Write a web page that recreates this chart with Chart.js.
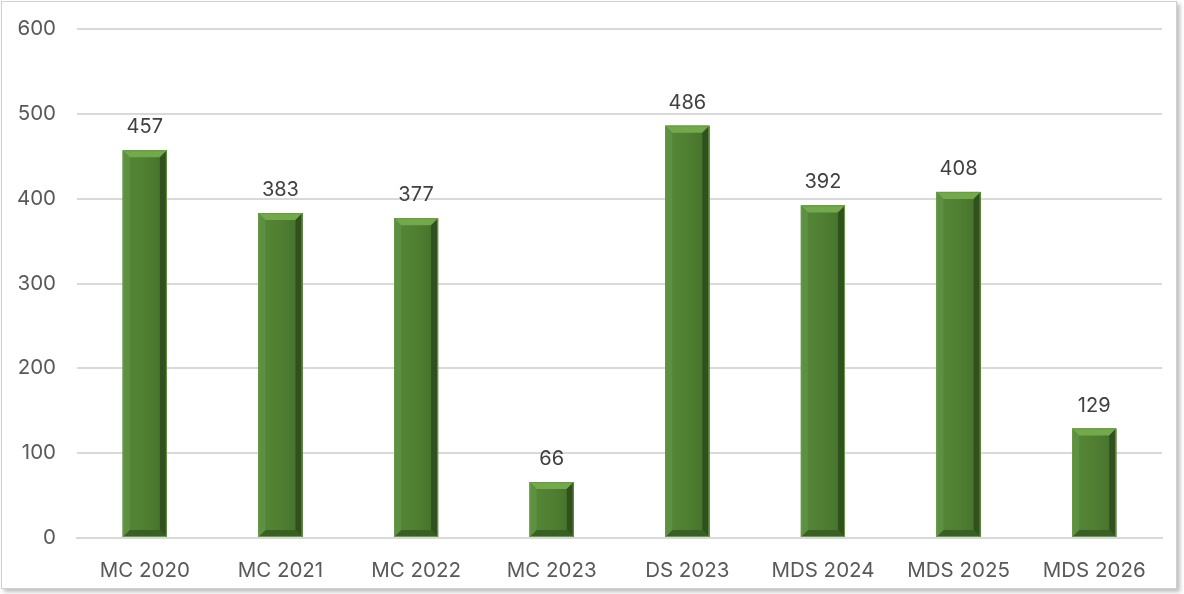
<!DOCTYPE html>
<html>
<head>
<meta charset="utf-8">
<script src="https://cdn.jsdelivr.net/npm/chart.js@4"></script>
<style>
  html, body { margin: 0; padding: 0; background: #fff; }
  #frame {
    position: absolute; left: 1px; top: 1px; width: 1174px; height: 586px;
    border: 1px solid #d0d0d0; box-shadow: 3px 3px 4px rgba(0,0,0,0.25);
    background: #fff;
  }
  #wrap { position: absolute; left: 0; top: 0; width: 1174px; height: 586px; }
</style>
</head>
<body>
<div id="frame"><div id="wrap"><canvas id="chart"></canvas></div></div>
<script>
var labels = ['MC 2020', 'MC 2021', 'MC 2022', 'MC 2023', 'DS 2023', 'MDS 2024', 'MDS 2025', 'MDS 2026'];
var values = [457, 383, 377, 66, 486, 392, 408, 129];
var yTicks = [0, 100, 200, 300, 400, 500, 600];
var FONT = 'Inter, "Noto Sans", sans-serif';

// bevel + value labels, drawn from bar elements
var bevelPlugin = {
    id: 'bevel',
    afterDatasetsDraw: function(chart) {
        var ctx = chart.ctx;
        var meta = chart.getDatasetMeta(0);
        meta.data.forEach(function(bar, i) {
            var l = bar.x - bar.width / 2, r = bar.x + bar.width / 2;
            var t = bar.y, b = bar.base;
            var bv = 7;
            ctx.save();
            // body gradient
            var g = ctx.createLinearGradient(l, 0, r, 0);
            g.addColorStop(0, '#568737');
            g.addColorStop(0.5, '#507f32');
            g.addColorStop(1, '#44702a');
            ctx.fillStyle = g;
            ctx.fillRect(l, t, r - l, b - t);
            // top bevel
            ctx.fillStyle = '#74a84c';
            ctx.beginPath();
            ctx.moveTo(l, t); ctx.lineTo(r, t); ctx.lineTo(r - bv, t + bv); ctx.lineTo(l + bv, t + bv);
            ctx.closePath(); ctx.fill();
            // right edge
            ctx.fillStyle = '#30501d';
            ctx.beginPath();
            ctx.moveTo(r, t); ctx.lineTo(r, b); ctx.lineTo(r - bv, b - bv); ctx.lineTo(r - bv, t + bv);
            ctx.closePath(); ctx.fill();
            // bottom edge
            ctx.fillStyle = '#3a5f24';
            ctx.beginPath();
            ctx.moveTo(l, b); ctx.lineTo(r, b); ctx.lineTo(r - bv, b - bv); ctx.lineTo(l + bv, b - bv);
            ctx.closePath(); ctx.fill();
            // left edge
            ctx.fillStyle = '#5d9040';
            ctx.beginPath();
            ctx.moveTo(l, t); ctx.lineTo(l + bv, t + bv); ctx.lineTo(l + bv, b - bv); ctx.lineTo(l, b);
            ctx.closePath(); ctx.fill();
            ctx.strokeStyle = '#6a9a48';
            ctx.lineWidth = 1;
            ctx.strokeRect(l + 0.5, t + 0.5, bar.width - 1, b - t - 1);
            // value label
            ctx.fillStyle = '#404040';
            ctx.font = '20px ' + FONT;
            ctx.textAlign = 'center';
            ctx.textBaseline = 'bottom';
            ctx.fillText(values[i], bar.x, t - 13);
            ctx.restore();
        });
    }
};

new Chart(document.getElementById('chart'), {
    type: 'bar',
    data: {
        labels: labels,
        datasets: [{
            data: values,
            backgroundColor: '#507f32',
            borderWidth: 0,
            barPercentage: 0.325,
            categoryPercentage: 1
        }]
    },
    options: {
        responsive: true, maintainAspectRatio: false, animation: false,
        layout: { padding: { top: 27, right: 14, bottom: 0, left: 0 } },
        plugins: { legend: { display: false }, tooltip: { enabled: false } },
        scales: {
            x: {
                afterFit: function(s) { s.height = 50; s.paddingLeft = 0; s.paddingRight = 0; },
                grid: { display: false },
                border: { color: '#d9d9d9', width: 2 },
                ticks: { color: '#595959', font: { size: 20.5, family: FONT }, padding: 13 }
            },
            y: {
                min: 0, max: 600,
                afterFit: function(s) { s.width = 75; s.paddingTop = 0; s.paddingBottom = 0; },
                afterBuildTicks: function(ax) { ax.ticks = yTicks.map(function(v) { return { value: v }; }); },
                grid: { color: '#d9d9d9', lineWidth: 2, drawTicks: false },
                border: { display: false },
                ticks: { color: '#595959', font: { size: 20.5, family: FONT }, padding: 21 }
            }
        }
    },
    plugins: [bevelPlugin]
});
</script>
</body>
</html>
